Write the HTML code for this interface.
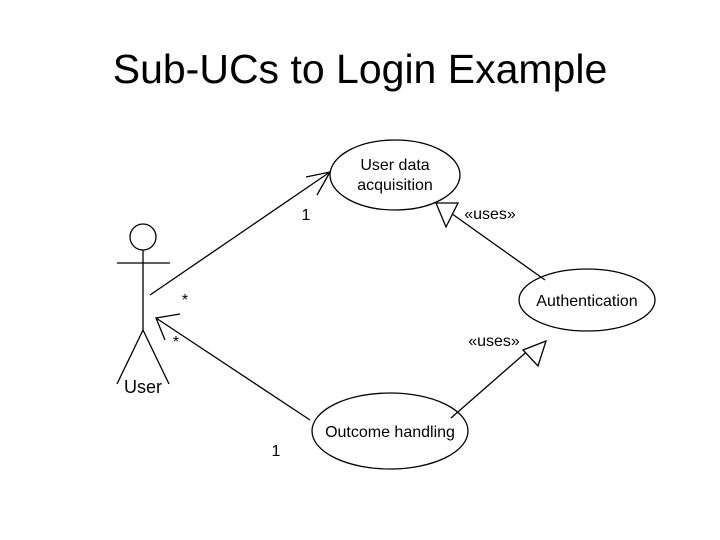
<!DOCTYPE html>
<html><head><meta charset="utf-8"><style>
body{margin:0;background:#fff;}
svg{display:block;font-family:"Liberation Sans",Arial,sans-serif;}
</style></head><body>
<svg width="720" height="540" viewBox="0 0 720 540">
<text x="360" y="83" font-size="41" text-anchor="middle">Sub-UCs to Login Example</text>
<g fill="none" stroke="#000" stroke-width="1.3">
<circle cx="143" cy="237" r="13"/>
<line x1="117" y1="263" x2="170" y2="263"/>
<line x1="143" y1="250" x2="143" y2="330"/>
<line x1="143" y1="330" x2="117" y2="384"/>
<line x1="143" y1="330" x2="169" y2="384"/>
<ellipse cx="395" cy="175" rx="65" ry="35"/>
<ellipse cx="587" cy="300" rx="68" ry="31"/>
<ellipse cx="390" cy="431" rx="78" ry="38"/>
<line x1="150" y1="295" x2="330" y2="172"/>
<polyline points="306,177 330,172 317,195"/>
<line x1="310" y1="420" x2="156" y2="318"/>
<polyline points="180,314 156,318 165,340"/>
<line x1="545" y1="280" x2="448" y2="211"/>
<polygon points="436,203 458,203 446,227" fill="#fff"/>
<line x1="451" y1="418" x2="531" y2="348"/>
<polygon points="546,341 523,350 538,366" fill="#fff"/>
</g>
<g font-size="16" text-anchor="middle">
<text x="395" y="170">User data</text>
<text x="395" y="190">acquisition</text>
<text x="587" y="306">Authentication</text>
<text x="390" y="437">Outcome handling</text>
<text x="143" y="393" font-size="18">User</text>
<text x="306" y="220">1</text>
<text x="490" y="219">«uses»</text>
<text x="185" y="305">*</text>
<text x="176" y="347">*</text>
<text x="494" y="346">«uses»</text>
<text x="276" y="456">1</text>
</g>
</svg>
</body></html>
